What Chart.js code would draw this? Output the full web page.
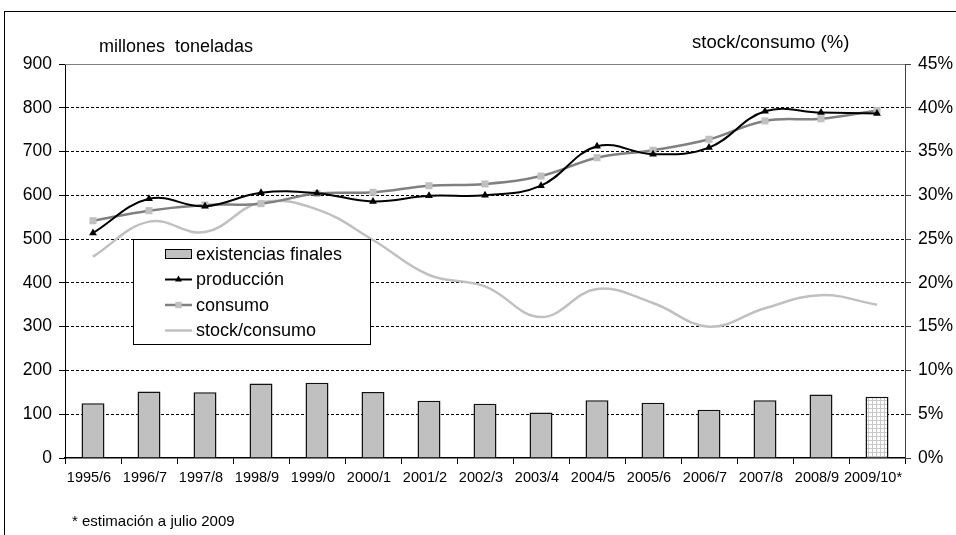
<!DOCTYPE html>
<html>
<head>
<meta charset="utf-8">
<script src="https://cdn.jsdelivr.net/npm/chart.js@4/dist/chart.umd.min.js"></script>
<style>
  body { margin: 0; background: #fff; font-family: Arial, "Liberation Sans", sans-serif; }
  #wrap { position: relative; width: 956px; height: 535px; overflow: hidden; }
  #frame { position: absolute; left: 4px; top: 11px; width: 980px; height: 560px;
           border-left: 1px solid #000; border-top: 1px solid #000; }
  #chart { position: absolute; left: 0; top: 0; }
  .lbl { position: absolute; color: #000; white-space: pre; }
</style>
</head>
<body>
<div id="wrap">
  <div id="frame"></div>
  <canvas id="chart" width="956" height="535"></canvas>
  <div class="lbl" style="left:99px; top:37px; font-size:18px; line-height:18px;">millones  toneladas</div>
  <div class="lbl" style="left:692px; top:33px; font-size:18.5px; line-height:18px;">stock/consumo (%)</div>
  <div class="lbl" style="left:72px; top:513px; font-size:15px; line-height:15px;">* estimación a julio 2009</div>
</div>
<script>
// campañas
const seasons = ["1995/6", "1996/7", "1997/8", "1998/9", "1999/0", "2000/1", "2001/2", "2002/3",
  "2003/4", "2004/5", "2005/6", "2006/7", "2007/8", "2008/9", "2009/10*"];

// millones de toneladas
const existencias = [125, 152, 150, 170, 172, 151, 131, 124, 104, 132, 126, 110, 132, 145, 140];
const produccion = [514, 592, 575, 606, 605, 586, 599, 600, 622, 712, 694, 709, 792, 789, 787];
const consumo = [542, 565, 578, 581, 604, 607, 622, 626, 644, 686, 703, 728, 770, 775, 794];

// porcentaje
const stockConsumo = [23.0, 27.0, 25.8, 29.2, 28.4, 24.9, 20.9, 19.6, 16.1, 19.3, 17.7, 15.0, 17.1, 18.6, 17.5];

const FONT = 'Arial, "Liberation Sans", sans-serif';
Chart.defaults.font.family = FONT;
Chart.defaults.color = "#000";

// cuadricula para la barra estimada
function gridPattern() {
  const c = document.createElement("canvas");
  c.width = 4; c.height = 4;
  const g = c.getContext("2d");
  g.fillStyle = "#fff";
  g.fillRect(0, 0, 4, 4);
  g.fillStyle = "#c8c8c8";
  g.fillRect(0, 0, 4, 1);
  g.fillRect(0, 0, 1, 4);
  return g.createPattern(c, "repeat");
}

const barColors = existencias.map((v, i) => i === existencias.length - 1 ? gridPattern() : "#c0c0c0");

const plotTop = {
  id: "plotTop",
  beforeDatasetsDraw(chart) {
    const { ctx, chartArea } = chart;
    ctx.save();
    ctx.strokeStyle = "#808080";
    ctx.lineWidth = 1;
    ctx.beginPath();
    ctx.moveTo(chartArea.left, chartArea.top + 0.5);
    ctx.lineTo(chartArea.right, chartArea.top + 0.5);
    ctx.stroke();
    ctx.restore();
  }
};

const legendBox = {
  id: "legendBox",
  afterDraw(chart) {
    const ctx = chart.ctx;
    const x = 133.5, y = 239.5, w = 237, h = 105;
    ctx.save();
    ctx.fillStyle = "#fff";
    ctx.fillRect(x, y, w, h);
    ctx.strokeStyle = "#000";
    ctx.lineWidth = 1;
    ctx.strokeRect(x, y, w, h);
    ctx.font = "18px " + FONT;
    ctx.textBaseline = "middle";
    chart.data.datasets.forEach((ds, i) => {
      const cy = 254 + i * 25.5;
      if (ds.type === "bar") {
        ctx.fillStyle = "#c0c0c0";
        ctx.fillRect(165.5, cy - 4.5, 26, 9);
        ctx.strokeStyle = "#000";
        ctx.lineWidth = 1;
        ctx.strokeRect(165.5, cy - 4.5, 26, 9);
      } else {
        ctx.strokeStyle = ds.borderColor;
        ctx.lineWidth = ds.borderWidth;
        ctx.beginPath();
        ctx.moveTo(165, cy);
        ctx.lineTo(192, cy);
        ctx.stroke();
        if (ds.pointRadius > 0) {
          ctx.fillStyle = ds.pointBackgroundColor;
          ctx.strokeStyle = ds.pointBorderColor;
          ctx.lineWidth = 1;
          Chart.helpers.drawPoint(ctx, { pointStyle: ds.pointStyle, radius: ds.pointRadius - 0.5, borderWidth: 0 }, 178.5, cy);
        }
      }
      ctx.fillStyle = "#000";
      ctx.fillText(ds.label, 196, cy + 1);
    });
    ctx.restore();
  }
};

new Chart(document.getElementById("chart"), {
  data: {
    labels: seasons,
    datasets: [
      {
        type: "bar",
        label: "existencias finales",
        data: existencias,
        backgroundColor: barColors,
        borderColor: "#111",
        borderWidth: 1.5,
        categoryPercentage: 1,
        barPercentage: 0.41,
        yAxisID: "y",
        order: 4
      },
      {
        type: "line",
        label: "producción",
        data: produccion,
        borderColor: "#000",
        borderWidth: 2,
        tension: 0.4,
        pointStyle: "triangle",
        pointRadius: 4.5,
        pointBackgroundColor: "#000",
        pointBorderColor: "#000",
        pointBorderWidth: 0,
        yAxisID: "y",
        order: 1
      },
      {
        type: "line",
        label: "consumo",
        data: consumo,
        borderColor: "#808080",
        borderWidth: 2.5,
        tension: 0.4,
        pointStyle: "rect",
        pointRadius: 5,
        pointBackgroundColor: "#c0c0c0",
        pointBorderColor: "#c0c0c0",
        pointBorderWidth: 0,
        yAxisID: "y",
        order: 2
      },
      {
        type: "line",
        label: "stock/consumo",
        data: stockConsumo,
        borderColor: "#c0c0c0",
        borderWidth: 2.5,
        tension: 0.4,
        pointRadius: 0,
        yAxisID: "y1",
        order: 3
      }
    ]
  },
  options: {
    responsive: false,
    animation: false,
    layout: { padding: { top: 64, left: 0, right: 0, bottom: 0 } },
    plugins: {
      legend: { display: false },
      tooltip: { enabled: false }
    },
    scales: {
      x: {
        afterFit(s) { s.height = 77; },
        grid: { display: true, drawOnChartArea: false, drawTicks: true, tickLength: 6, color: "#000" },
        border: { display: true, color: "#000", width: 1.5 },
        ticks: { font: { size: 14.5 }, color: "#000", padding: 5, labelOffset: -4, maxRotation: 0, autoSkip: false }
      },
      y: {
        position: "left",
        min: 0,
        max: 900,
        afterFit(s) { s.width = 65; },
        grid: {
          color: c => (c.tick.value === 0 || c.tick.value === 900) ? "rgba(0,0,0,0)" : "#000",
          tickColor: "#000",
          tickLength: 6,
          lineWidth: 1
        },
        border: { display: true, color: "#000", width: 1, dash: [3, 2] },
        ticks: { stepSize: 100, font: { size: 17.5 }, color: "#000", padding: 7 }
      },
      y1: {
        position: "right",
        min: 0,
        max: 45,
        afterFit(s) { s.width = 51; },
        grid: { drawOnChartArea: false, color: "#404040", tickLength: 6 },
        border: { display: true, color: "#404040", width: 1 },
        ticks: { stepSize: 5, font: { size: 17.5 }, color: "#000", padding: 7, callback: v => v + "%" }
      }
    }
  },
  plugins: [plotTop, legendBox]
});
</script>
</body>
</html>
